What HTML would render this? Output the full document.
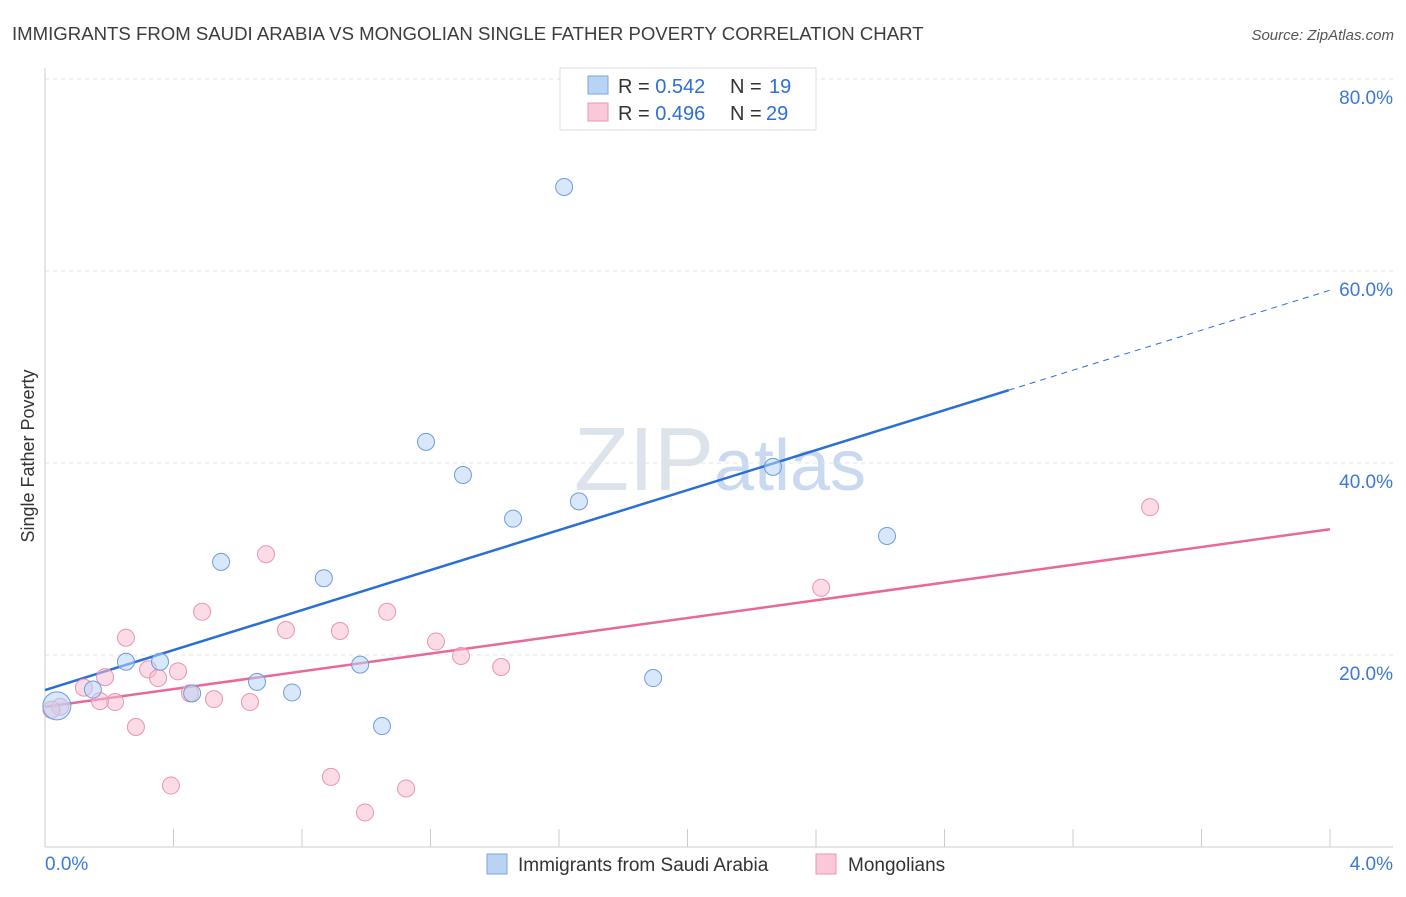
<!DOCTYPE html>
<html><head><meta charset="utf-8"><style>
body{margin:0;background:#fff;font-family:"Liberation Sans",sans-serif}
svg text{font-family:"Liberation Sans",sans-serif}
</style></head><body>
<svg id="chart" width="1406" height="892" xmlns="http://www.w3.org/2000/svg">
<text x="12" y="40" font-size="18.6" fill="#3c3c3c">IMMIGRANTS FROM SAUDI ARABIA VS MONGOLIAN SINGLE FATHER POVERTY CORRELATION CHART</text>
<text x="1394" y="40" font-size="15" fill="#555" text-anchor="end" font-style="italic">Source: ZipAtlas.com</text>
<text x="720" y="490" font-size="90" fill="#dde3ea" text-anchor="middle" font-family="Liberation Serif">ZIP<tspan fill="#c9daf0" font-family="Liberation Sans" font-size="72">atlas</tspan></text>
<text transform="translate(34,456) rotate(-90)" font-size="18" fill="#333" text-anchor="middle">Single Father Poverty</text>
<g id="grid"></g><g id="axes"></g><g id="lines"></g><g id="points"></g>
<g>
<rect x="560" y="68" width="256" height="62" fill="#fff" stroke="#ddd"/>
<rect x="588" y="76" width="20" height="18" fill="#b9d3f5" stroke="#7aa6e0"/>
<text x="618" y="93" font-size="20" fill="#333">R = <tspan fill="#2c6fd6">0.542</tspan></text>
<text x="730" y="93" font-size="20" fill="#333">N = </text><text x="769" y="93" font-size="20" fill="#2c6fd6">19</text>
<rect x="588" y="103" width="20" height="18" fill="#f9c9d8" stroke="#e994b0"/>
<text x="618" y="120" font-size="20" fill="#333">R = <tspan fill="#2c6fd6">0.496</tspan></text>
<text x="730" y="120" font-size="20" fill="#333">N = </text><text x="766" y="120" font-size="20" fill="#2c6fd6">29</text>
</g>
<g>
<rect x="487" y="854" width="20" height="20" fill="#b9d3f5" stroke="#7aa6e0"/>
<text x="518" y="871" font-size="19" fill="#333">Immigrants from Saudi Arabia</text>
<rect x="816" y="854" width="20" height="20" fill="#f9c9d8" stroke="#e994b0"/>
<text x="848" y="871" font-size="19" fill="#333">Mongolians</text>
</g>
</svg>
<script>
const yTicks=[20,40,60,80];
const xTickLabels=["0.0%","4.0%"];
const blueX=[1.616,1.186,1.301,1.662,1.457,2.266,2.621,0.548,0.868,0.252,0.358,0.981,0.66,0.458,0.769,0.149,1.893,1.049,0.037];
const blueY=[68.75,42.2,38.75,36.0,34.2,39.6,32.4,29.7,28.0,19.3,19.3,19.0,17.2,16.0,16.1,16.4,17.6,12.6,14.7];
const pinkX=[3.44,2.416,0.688,0.489,1.065,0.75,0.918,0.252,1.217,1.295,1.42,0.321,0.414,0.352,0.187,0.121,0.218,0.526,0.638,0.451,0.171,0.283,0.047,0.89,0.392,1.124,0.996,0.02];
const pinkY=[35.4,27.0,30.5,24.5,24.5,22.6,22.5,21.8,21.4,19.9,18.75,18.5,18.3,17.6,17.7,16.6,15.1,15.4,15.1,16.0,15.2,12.5,14.6,7.3,6.4,6.1,3.6,14.3];
const blueTrend=[16.35,58.0], blueSolidEnd=3.0;
const pinkTrend=[14.6,33.1];
const sx=v=>45+v/4*1285, sy=v=>847-v*9.6;
const NS="http://www.w3.org/2000/svg";
function mk(t,a,p){const e=document.createElementNS(NS,t);for(const k in a)e.setAttribute(k,a[k]);document.getElementById(p).appendChild(e);return e;}
yTicks.forEach(t=>{
 const g=mk('line',{x1:45,x2:1393,y1:sy(t),y2:sy(t),stroke:'#e3e3e3','stroke-dasharray':'4,4'},'grid');
 
 
 const l=mk('text',{x:1393,y:sy(t)+25,'font-size':19,fill:'#3b78d8','text-anchor':'end'},'grid');
 l.textContent=t.toFixed(1)+'%';
 
 
});
mk('line',{x1:45,x2:45,y1:68,y2:847,stroke:'#ccc'},'axes');
mk('line',{x1:45,x2:1393,y1:847,y2:847,stroke:'#ccc'},'axes');
for(let i=1;i<=10;i++){const t=mk('line',{x1:sx(i*0.4),x2:sx(i*0.4),y1:829,y2:847,stroke:'#ccc'},'axes');
 
 }
xTickLabels.forEach((s,i)=>{const t=mk('text',{x:i?1393:45,y:870,'font-size':19,fill:'#3b78d8','text-anchor':i?'end':'start'},'axes');t.textContent=s;
 
 });
const ty=(tr,x)=>tr[0]+(tr[1]-tr[0])*x/4;
let l1=mk('line',{x1:sx(0),y1:sy(ty(blueTrend,0)),x2:sx(blueSolidEnd),y2:sy(ty(blueTrend,blueSolidEnd)),stroke:'#2a6fd6','stroke-width':2.5},'lines');


let l2=mk('line',{x1:sx(blueSolidEnd),y1:sy(ty(blueTrend,blueSolidEnd)),x2:sx(4),y2:sy(ty(blueTrend,4)),stroke:'#2a6fd6','stroke-width':1,'stroke-dasharray':'6,5'},'lines');


let l3=mk('line',{x1:sx(0),y1:sy(pinkTrend[0]),x2:sx(4),y2:sy(pinkTrend[1]),stroke:'#e8689a','stroke-width':2.5},'lines');


function pts(X,Y,fill,stroke,name){X.forEach((x,i)=>{const r=(i==X.length-1&&name=='blue-point')?14:8.5;
 const c=mk('circle',{cx:sx(x),cy:sy(Y[i]),r:r,fill:fill,'fill-opacity':0.55,stroke:stroke,'stroke-width':1},'points');
 
 });}
pts(pinkX,pinkY,'#f7bfd2','#e994b0','pink-point');
pts(blueX,blueY,'#b9d3f5','#6d9ddc','blue-point');
</script>
</body></html>
